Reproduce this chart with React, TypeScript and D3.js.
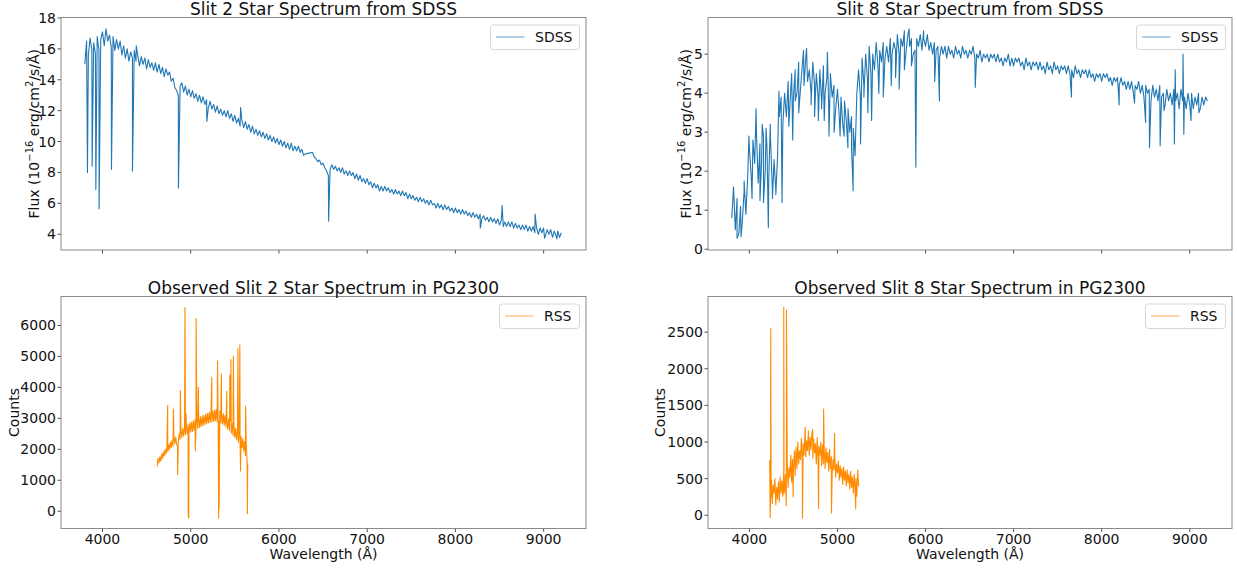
import * as d3 from 'd3'

// shared wavelength axis
const waveTicks = [4000, 5000, 6000, 7000, 8000, 9000]
const waveLimits = [3530, 9480]

// SDSS spectra, read every 20 Å starting at 3800 Å
const sdssStart = 3800
const sdssStep = 20

const slit2Sdss = [
  15.0, 16.5, 15.6, 16.7, 15.9, 16.4, 15.7, 16.8, 15.9, 16.6,
  17.1, 16.2, 17.3, 16.5, 16.9, 16.1, 16.8, 15.9, 16.6, 16.0,
  16.5, 15.6, 16.2, 15.4, 16.0, 15.2, 15.8, 15.4, 15.9, 15.2,
  15.6, 14.9, 15.5, 15.0, 15.4, 14.7, 15.3, 14.8, 15.1, 14.6,
  15.1, 14.5, 15.0, 14.4, 14.8, 14.2, 14.7, 14.3, 14.5, 13.9,
  14.1, 13.5, 13.3, 13.0, 13.6, 13.8, 13.2, 13.6, 13.0, 13.4,
  12.9, 13.3, 12.8, 13.1, 12.6, 13.0, 12.5, 12.9, 12.4, 12.7,
  12.2, 12.6, 12.1, 12.4, 11.9, 12.3, 11.8, 12.1, 11.7, 12.0,
  11.6, 12.0, 11.5, 11.8, 11.3, 11.7, 11.2, 11.5, 11.0, 11.4,
  10.9, 11.3, 10.8, 11.1, 10.6, 11.0, 10.5, 10.8, 10.4, 10.7,
  10.3, 10.6, 10.2, 10.5, 10.1, 10.4, 10.0, 10.3, 9.9, 10.2,
  9.8, 10.1, 9.7, 10.0, 9.6, 9.9, 9.5, 9.9, 9.4, 9.7,
  9.4, 9.7, 9.3, 9.5, 9.1, 9.2, 9.22, 9.25, 9.28, 9.3,
  9.0, 8.9, 8.7, 8.8, 8.5, 8.6, 8.3, 8.1, 7.8, 8.2,
  8.5, 8.2, 8.4, 8.1, 8.3, 8.0, 8.3, 7.9, 8.1, 7.8,
  8.1, 7.8, 8.0, 7.6, 7.9, 7.5, 7.8, 7.4, 7.6, 7.3,
  7.6, 7.2, 7.4, 7.0, 7.3, 7.0, 7.2, 6.8, 7.1, 6.8,
  7.1, 6.8, 7.0, 6.7, 6.9, 6.6, 6.9, 6.6, 6.8, 6.5,
  6.8, 6.5, 6.7, 6.3, 6.6, 6.3, 6.5, 6.2, 6.4, 6.1,
  6.4, 6.1, 6.3, 6.0, 6.2, 5.9, 6.2, 5.9, 6.0, 5.7,
  6.0, 5.7, 5.9, 5.6, 5.9, 5.6, 5.8, 5.5, 5.7, 5.4,
  5.7, 5.4, 5.6, 5.3, 5.6, 5.3, 5.5, 5.2, 5.4, 5.1,
  5.4, 5.1, 5.3, 5.0, 5.3, 5.0, 5.2, 4.9, 5.1, 4.8,
  5.1, 4.8, 5.0, 4.7, 5.0, 4.6, 4.9, 4.7, 4.8, 4.5,
  4.8, 4.5, 4.8, 4.4, 4.7, 4.4, 4.6, 4.3, 4.6, 4.3,
  4.6, 4.2, 4.5, 4.2, 4.5, 4.1, 4.4, 4.0, 4.4, 4.1,
  4.4, 3.9, 4.3, 4.0, 4.3, 3.8, 4.2, 3.9, 4.2, 3.8, 4.1,
]

// absorption lines and single-pixel features [wavelength, flux]
const slit2SdssLines = [
  [3830, 8.0], [3883, 8.4], [3925, 6.9], [3962, 5.65], [4102, 8.2], [4340, 8.1],
  [4383, 16.2], [4861, 7.0], [5183, 11.3], [5565, 12.2], [6563, 4.85], [8282, 4.4],
  [8530, 5.85], [8541, 4.5], [8903, 5.3], [9010, 3.75], [9150, 3.7],
]

const slit8Sdss = [
  0.8, 1.6, 0.5, 1.3, 0.4, 1.1, 0.7, 1.5, 0.9, 1.8,
  2.6, 1.9, 2.8, 2.2, 3.0, 1.7, 2.7, 2.3, 2.9, 2.0,
  2.6, 1.8, 2.8, 1.6, 2.3, 1.5, 2.4, 3.4, 3.9, 3.2,
  4.0, 3.4, 4.3, 3.7, 4.5, 3.9, 4.6, 4.0, 4.8, 4.1,
  4.7, 4.2, 4.9, 4.3, 4.6, 4.0, 4.8, 4.2, 4.5, 3.9,
  4.6, 3.8, 4.7, 4.0, 4.4, 3.7, 4.5, 3.9, 4.2, 3.6,
  4.1, 3.4, 3.9, 3.2, 3.8, 3.3, 3.6, 3.0, 3.4, 3.1,
  2.4, 4.0, 4.6, 3.9, 4.9, 4.2, 5.0, 4.4, 5.2, 4.5,
  5.0, 4.6, 5.3, 4.7, 5.1, 4.8, 5.3, 4.9, 5.2, 4.8,
  5.4, 5.0, 5.3, 5.1, 5.5, 5.0, 5.4, 5.2, 5.6, 5.1,
  5.5, 5.2, 5.4, 5.0, 5.1, 5.4, 5.2, 5.5, 5.1, 5.4,
  5.2, 5.5, 5.1, 5.3, 5.0, 5.3, 5.1, 5.2, 4.9, 5.2,
  5.0, 5.2, 4.9, 5.2, 5.0, 5.1, 4.9, 5.2, 5.0, 5.1,
  4.9, 5.2, 5.0, 5.1, 4.9, 5.1, 5.0, 5.2, 4.9, 5.0,
  4.9, 5.1, 4.8, 5.0, 4.9, 5.0, 4.8, 5.0, 4.9, 5.0,
  4.8, 5.0, 4.8, 4.9, 4.7, 4.9, 4.8, 5.0, 4.7, 4.9,
  4.7, 4.9, 4.8, 4.9, 4.7, 4.8, 4.6, 4.9, 4.7, 4.8,
  4.6, 4.8, 4.7, 4.8, 4.6, 4.8, 4.6, 4.7, 4.5, 4.8,
  4.6, 4.7, 4.5, 4.8, 4.6, 4.7, 4.5, 4.7, 4.6, 4.7,
  4.5, 4.7, 4.5, 4.6, 4.4, 4.7, 4.5, 4.6, 4.4, 4.6,
  4.5, 4.6, 4.4, 4.6, 4.4, 4.5, 4.3, 4.5, 4.4, 4.5,
  4.3, 4.5, 4.4, 4.5, 4.3, 4.4, 4.2, 4.4, 4.3, 4.4,
  4.2, 4.4, 4.2, 4.3, 4.1, 4.3, 4.1, 4.3, 4.0, 4.2,
  4.1, 4.3, 4.0, 4.2, 3.9, 4.2, 4.0, 4.1, 3.8, 4.2,
  3.9, 4.1, 3.8, 4.2, 3.9, 4.0, 3.7, 4.1, 3.8, 4.0,
  3.7, 4.1, 3.8, 4.0, 3.6, 4.1, 3.8, 3.9, 3.6, 4.0,
  3.7, 4.0, 3.6, 3.9, 3.7, 4.0, 3.6, 3.9, 3.7, 3.9, 3.8,
]

const slit8SdssLines = [
  [3860, 0.28], [3905, 0.32], [3940, 1.75], [3995, 2.9], [4030, 1.3], [4076, 3.6],
  [4120, 1.25], [4145, 3.2], [4160, 1.2], [4190, 3.1], [4215, 0.55], [4237, 3.2],
  [4262, 1.3], [4300, 1.4], [4336, 4.05], [4371, 1.2], [4448, 3.15], [4492, 2.8],
  [4520, 3.8], [4560, 3.5], [4615, 5.1], [4649, 5.15], [4700, 3.7], [4740, 3.4],
  [4783, 3.3], [4820, 3.6], [4850, 3.3], [4886, 5.05], [4904, 2.9], [4962, 3.0],
  [5030, 2.9], [5075, 2.9], [5119, 2.6], [5160, 2.6], [5178, 1.5], [5262, 2.7],
  [5300, 3.9], [5345, 3.5], [5388, 3.3], [5470, 4.0], [5520, 3.9], [5611, 4.2],
  [5660, 4.4], [5700, 4.1], [5760, 4.6], [5813, 5.65], [5840, 4.7], [5890, 2.1],
  [5978, 5.6], [6104, 4.3], [6158, 3.8], [6565, 4.15], [7657, 3.9], [8199, 3.7],
  [8373, 3.75], [8499, 3.25], [8543, 2.6], [8664, 2.65], [8709, 3.55], [8826, 2.7],
  [8835, 4.6], [8924, 5.0], [8933, 2.95], [9015, 3.3], [9104, 3.5],
]

// RSS counts, read every 10 Å
const rssStep = 10

const slit2RssStart = 4620
const slit2Rss = [
  1450, 1700, 1560, 1760, 1620, 1850, 1700, 1920, 1780, 2000,
  1850, 2080, 1920, 2150, 1990, 2230, 2060, 2300, 2100, 2380,
  2180, 2400, 2150, 2100, 2250, 2500, 2320, 2620, 2380, 2680,
  2430, 2720, 2480, 2780, 2500, 2800, 2520, 2850, 2560, 2880,
  2580, 2920, 2620, 2950, 2650, 2980, 2680, 3010, 2700, 3050,
  2740, 3080, 2760, 3100, 2800, 3130, 2820, 3160, 2850, 3200,
  2870, 3220, 2880, 3240, 2900, 3260, 2920, 3280, 2900, 3250,
  2880, 3240, 2860, 3200, 2820, 3150, 2780, 3100, 2720, 3050,
  2660, 2980, 2600, 2900, 2520, 2830, 2450, 2760, 2380, 2680,
  2300, 2600, 2220, 2500, 2150, 2420, 2050, 2350, 1950, 2250,
  1800, 2150, 1550,
]

const slit2RssSpikes = [
  [4739, 3420], [4804, 3300], [4852, 1190], [4883, 3900], [4935, 6580], [4948, 3150],
  [4972, -150], [4978, -220], [5052, 1950], [5061, 6220], [5087, 4000], [5239, 4330],
  [5304, 4850], [5317, -220], [5322, 80], [5348, 4430], [5409, 3870], [5443, 4400],
  [5456, 4900], [5483, 5000], [5535, 5250], [5557, 5370], [5565, 1300], [5622, 3400],
  [5643, -70], [5646, 1550],
]

const slit8RssStart = 4230
const slit8Rss = [
  750, 250, 480, 160, 420, 300, 500, 140, 380, 220,
  460, 180, 520, 300, 470, 260, 600, 330, 560, 420,
  700, 380, 650, 520, 820, 450, 760, 600, 880, 540,
  930, 640, 1000, 700, 880, 760, 1050, 720, 980, 820,
  1080, 800, 1020, 880, 1150, 820, 1060, 900, 1120, 780,
  1040, 850, 980, 700, 1060, 760, 940, 820, 1000, 680,
  960, 700, 880, 640, 920, 720, 860, 600, 900, 640,
  800, 560, 760, 620, 820, 520, 700, 580, 740, 480,
  680, 520, 640, 420, 660, 480, 600, 400, 620, 440,
  560, 360, 600, 380, 520, 300, 560, 340, 500, 260,
  620, 400,
]

const slit8RssSpikes = [
  [4236, -30], [4243, 2550], [4247, 250], [4390, 2840], [4394, 300], [4418, 130],
  [4421, 2800], [4497, 250], [4603, -40], [4634, 1200], [4719, 1170], [4785, 90],
  [4843, 1450], [4932, 30], [4967, 1120], [5207, 90],
]

const slit2SdssTicks = [4, 6, 8, 10, 12, 14, 16, 18]
const slit8SdssTicks = [0, 1, 2, 3, 4, 5]
const slit2RssTicks = [0, 1000, 2000, 3000, 4000, 5000, 6000]
const slit8RssTicks = [0, 500, 1000, 1500, 2000, 2500]

const blue = '#1f77b4'
const orange = '#ff8c00'
const font = 'DejaVu Sans'

function spectrum(start, step, values, extra) {
  const pts = values.map((v, i) => [start + i * step, v])
  return pts.concat(extra).sort((a, b) => a[0] - b[0])
}

const fluxLabel = (
  <>
    Flux (10<tspan dy={-6} fontSize={10}>−16</tspan>
    <tspan dy={6}> erg/cm</tspan>
    <tspan dy={-6} fontSize={10}>2</tspan>
    <tspan dy={6}>/s/Å)</tspan>
  </>
)

function Panel({ box, yLimits, yTicks, points, color, title, legend, legendWidth, yLabel, yLabelX, showXLabels }) {
  const [left, right, top, bottom] = box
  const x = d3.scaleLinear().domain(waveLimits).range([left, right])
  const y = d3.scaleLinear().domain(yLimits).range([bottom, top])
  const line = d3.line().x((d) => x(d[0])).y((d) => y(d[1]))
  const legX = right - 6.5 - legendWidth
  const legY = top + 7.5

  return (
    <g>
      <path d={line(points)} fill="none" stroke={color} strokeWidth={1.1} strokeLinejoin="round" />
      <rect x={left} y={top} width={right - left} height={bottom - top} fill="none" stroke="#8a8a8a" strokeWidth={1} />
      {waveTicks.map((t) => (
        <g key={t}>
          <line x1={x(t)} x2={x(t)} y1={bottom} y2={bottom + 3.5} stroke="#555" />
          {showXLabels && (
            <text x={x(t)} y={bottom + 15} textAnchor="middle" fontSize={14}>
              {t}
            </text>
          )}
        </g>
      ))}
      {yTicks.map((t) => (
        <g key={t}>
          <line x1={left - 3.5} x2={left} y1={y(t)} y2={y(t)} stroke="#555" />
          <text x={left - 5} y={y(t)} dy="0.36em" textAnchor="end" fontSize={14}>
            {t}
          </text>
        </g>
      ))}
      <text x={(left + right) / 2} y={top - 2.5} textAnchor="middle" fontSize={17}>
        {title}
      </text>
      {showXLabels && (
        <text x={(left + right) / 2} y={559} textAnchor="middle" fontSize={14}>
          Wavelength (Å)
        </text>
      )}
      <text transform={`translate(${yLabelX},${(top + bottom) / 2}) rotate(-90)`} textAnchor="middle" fontSize={14}>
        {yLabel}
      </text>
      <rect x={legX} y={legY} width={legendWidth} height={24.5} rx={3} fill="white" fillOpacity={0.8} stroke="#d6d6d6" />
      <line x1={legX + 5.5} x2={legX + 34} y1={legY + 12} y2={legY + 12} stroke={color} strokeOpacity={0.55} strokeWidth={1.3} />
      <text x={legX + 44.5} y={legY + 17.3} fontSize={14}>
        {legend}
      </text>
    </g>
  )
}

export default function App() {
  const slit2SdssPts = spectrum(sdssStart, sdssStep, slit2Sdss, slit2SdssLines)
  const slit8SdssPts = spectrum(sdssStart, sdssStep, slit8Sdss, slit8SdssLines)
  const slit2RssPts = spectrum(slit2RssStart, rssStep, slit2Rss, slit2RssSpikes)
  const slit8RssPts = spectrum(slit8RssStart, rssStep, slit8Rss, slit8RssSpikes)

  return (
    <svg
      width={1237}
      height={570}
      style={{ position: 'absolute', left: 0, top: 0, background: 'white' }}
      fontFamily={font}
      fill="#111"
    >
      <Panel
        box={[61, 586, 17.5, 250]}
        yLimits={[2.98, 18.03]}
        yTicks={slit2SdssTicks}
        points={slit2SdssPts}
        color={blue}
        title="Slit 2 Star Spectrum from SDSS"
        legend="SDSS"
        legendWidth={89}
        yLabel={fluxLabel}
        yLabelX={39}
        showXLabels={false}
      />
      <Panel
        box={[708, 1232, 17.5, 250]}
        yLimits={[-0.02, 5.94]}
        yTicks={slit8SdssTicks}
        points={slit8SdssPts}
        color={blue}
        title="Slit 8 Star Spectrum from SDSS"
        legend="SDSS"
        legendWidth={89}
        yLabel={fluxLabel}
        yLabelX={691}
        showXLabels={false}
      />
      <Panel
        box={[61, 586, 296.5, 528.5]}
        yLimits={[-558, 6935]}
        yTicks={slit2RssTicks}
        points={slit2RssPts}
        color={orange}
        title="Observed Slit 2 Star Spectrum in PG2300"
        legend="RSS"
        legendWidth={80}
        yLabel="Counts"
        yLabelX={18.5}
        showXLabels={true}
      />
      <Panel
        box={[708, 1232, 296.5, 528.5]}
        yLimits={[-181, 2987]}
        yTicks={slit8RssTicks}
        points={slit8RssPts}
        color={orange}
        title="Observed Slit 8 Star Spectrum in PG2300"
        legend="RSS"
        legendWidth={80}
        yLabel="Counts"
        yLabelX={664.5}
        showXLabels={true}
      />
    </svg>
  )
}
